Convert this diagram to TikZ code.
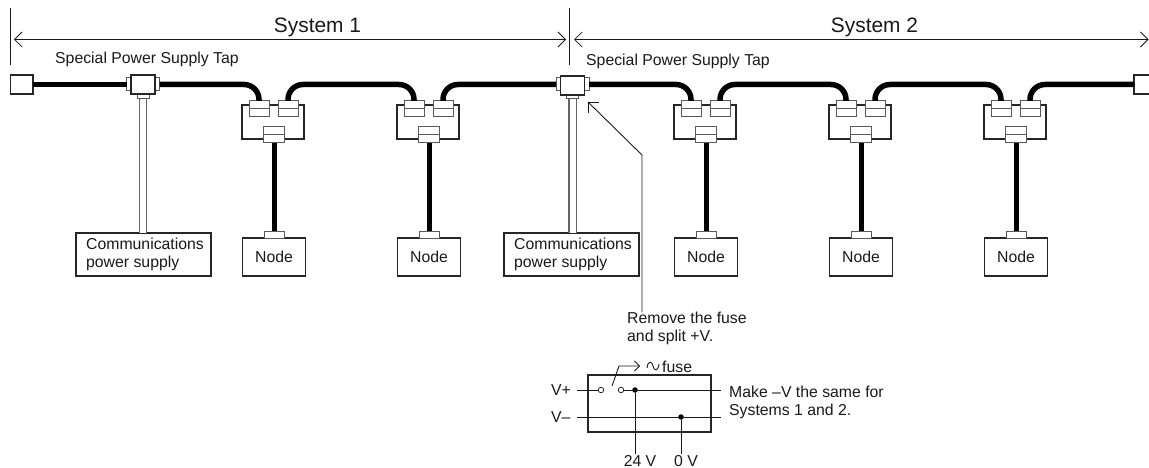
\documentclass[tikz,border=0pt]{standalone}
\usepackage{fontspec}
\setmainfont{Liberation Sans}
\usetikzlibrary{arrows.meta}
\tikzset{
  x=1pt,y=-1pt,
  txt/.style={font=\fontsize{15.8}{18}\selectfont,inner sep=0pt,anchor=base west,text=black!90},
  bigtxt/.style={font=\fontsize{20.9}{24}\selectfont,inner sep=0pt,anchor=base,text=black!90},
  bx/.style={draw=black!85,line width=1.2pt,fill=white,inner sep=0pt,outer sep=0pt,font=\fontsize{15.8}{18}\selectfont,text=black!90},
  conn/.style={draw=black!65,line width=1pt,fill=white,inner sep=0pt,outer sep=0pt,minimum width=20pt},
  cable/.style={line width=5.5pt,draw=black,rounded corners=15pt},
  drop/.style={line width=5pt,draw=black},
  feed/.style={draw=black!60,line width=1.1pt,double=white,double distance=6pt},
  dim/.style={draw=black!90,line width=.9pt},
  wire/.style={draw=black!90,line width=.9pt},
  dot/.style={circle,fill=black,inner sep=0pt,minimum size=5.5pt},
  opencirc/.style={circle,draw=black!85,line width=.8pt,fill=white,inner sep=0pt,minimum size=5.5pt},
  commbox/.style={bx,align=left,minimum height=43pt,minimum width=135pt}
}
\newcommand{\tapunit}[2]{%
  \node[bx,anchor=north west,minimum width=62pt,minimum height=34pt] (#2box) at (#1-32,105) {};
  \node[conn,minimum height=8pt,anchor=north] (#2L) at (#1-15,101) {};
  \node[conn,minimum height=8pt,anchor=north] (#2Lb) at (#2L.south) {};
  \node[conn,minimum height=8pt,anchor=north] (#2R) at (#1+14,101) {};
  \node[conn,minimum height=8pt,anchor=north] (#2Rb) at (#2R.south) {};
  \node[conn,minimum width=21pt,minimum height=7.5pt,anchor=north] (#2B) at (#1,127) {};
  \node[conn,minimum width=21pt,minimum height=8.5pt,anchor=north] (#2Bb) at (#2B.south) {};
  \node[bx,anchor=north,minimum width=63.5pt,minimum height=38pt] (#2n) at (#1,238) {Node};
  \node[conn,anchor=south,minimum height=7pt] (#2t) at (#1,238) {};
  \draw[drop] (#2Bb.south) -- (#2t.north);
}
\newcommand{\teeunit}[3]{%
  \node[conn,minimum width=4.5pt,minimum height=13pt,anchor=east] (#3W) at (#1-12,84.5) {};
  \node[conn,minimum width=4.5pt,minimum height=13pt,anchor=west] (#3E) at (#1+12,84.5) {};
  \node[conn,minimum width=12pt,minimum height=5pt,anchor=north] (#3S) at (#1,94) {};
  \node[bx,line width=1.4pt,minimum width=24pt,minimum height=19pt] (#3) at (#1,#2) {};
}
\begin{document}
\begin{tikzpicture}
\useasboundingbox (0,0) rectangle (1149,468);
% dimension lines
\coordinate (dL) at (14,39.5);
\coordinate (dM1) at (566,39.5);
\coordinate (dM2) at (574,39.5);
\coordinate (dR) at (1148.5,39.5);
\coordinate (tL1) at (10,8); \coordinate (tL2) at (10,65);
\coordinate (tM1) at (569.7,8); \coordinate (tM2) at (569.7,65);
\draw[dim] (tL1) -- (tL2);
\draw[dim] (tM1) -- (tM2);
\draw[dim,{Straight Barb[length=7.5pt,width=15pt,line width=.8pt]}-{Straight Barb[length=7.5pt,width=15pt,line width=.8pt]}] (dL) -- (dM1);
\draw[dim,{Straight Barb[length=7.5pt,width=15pt,line width=.8pt]}-{Straight Barb[length=7.5pt,width=15pt,line width=.8pt]}] (dM2) -- (dR);
\node[bigtxt] (sys1) at (317.5,33) {System 1};
\node[bigtxt] (sys2) at (874.5,33) {System 2};
\node[txt] (tap1) at (55,64) {Special Power Supply Tap};
\node[txt] (tap2) at (586,65.5) {Special Power Supply Tap};
% units
\tapunit{274}{ua}
\tapunit{429}{ub}
\tapunit{706}{uc}
\tapunit{861}{ud}
\tapunit{1016}{ue}
\teeunit{143}{84.5}{teeA}
\teeunit{572.5}{85.5}{teeB}
\node[bx,minimum width=22.5pt,minimum height=19pt,anchor=east] (endL) at (33,84.5) {};
\node[bx,minimum width=22pt,minimum height=19pt,anchor=west] (endR) at (1134,84.5) {};
% bus reference coordinates
\coordinate (b1) at (350,84.5);
\coordinate (b2) at (783,84.5);
\coordinate (b3) at (938,84.5);
% cables
\draw[cable] (endL.east) -- (teeAW.west);
\draw[cable] (teeAE.east) -| (uaL.north);
\draw[cable] (uaR.north) |- (b1) -| (ubL.north);
\draw[cable] (ubR.north) |- (teeBW.west);
\draw[cable] (teeBE.east) -| (ucL.north);
\draw[cable] (ucR.north) |- (b2) -| (udL.north);
\draw[cable] (udR.north) |- (b3) -| (ueL.north);
\draw[cable] (ueR.north) |- (endR.west);
% power supplies
\node[commbox] (commA) at (143.5,254.5) {\hspace*{3pt}Communications\\\hspace*{3pt}power supply};
\node[commbox] (commB) at (571.5,254.5) {\hspace*{3pt}Communications\\\hspace*{3pt}power supply};
\draw[feed] (teeAS.south) -- (teeAS.south |- commA.north);
\draw[feed] (teeBS.south) -- (teeBS.south |- commB.north);
% note arrow
\coordinate (nb1) at (599,102);
\coordinate (nt) at (588,102);
\coordinate (nb2) at (588,113);
\coordinate (nk) at (642,155);
\node[txt,align=left] (note) at (627,341) {Remove the fuse\\and split +V.};
\coordinate (ne) at (642,312);
\draw[wire] (nb1) -- (nt) -- (nb2);
\draw[wire] (nt) -- (nk) -- (ne);
% switch box
\node[bx,anchor=north west,fill=none,minimum width=123pt,minimum height=57pt] (sw) at (588,375) {};
\node[txt] (vp) at (551,395) {V+};
\node[txt] (vm) at (551,422) {V--};
\coordinate (vpa) at (577,390);
\coordinate (vma) at (577,417);
\coordinate (vpb) at (721,390);
\coordinate (vmb) at (721,417);
\node[opencirc] (o1) at (601,390) {};
\node[opencirc] (o2) at (621,390) {};
\node[dot] (d1) at (635,390) {};
\node[dot] (d2) at (681,417) {};
\draw[wire] (vpa) -- (o1);
\draw[wire] (o2) -- (vpb);
\draw[wire] (vma) -- (vmb);
\coordinate (e24) at (635,454);
\coordinate (e0) at (681,454);
\draw[wire] (d1) -- (e24);
\draw[wire] (d2) -- (e0);
\node[txt,anchor=base] (l24) at (640,466) {24 V};
\node[txt,anchor=base] (l0) at (686,466) {0 V};
\node[txt] (mk) at (729,397) {Make --V the same for};
\node[txt] (mk2) at (729,415) {Systems 1 and 2.};
% fuse
\coordinate (la) at (612,386);
\coordinate (lb) at (619,366);
\coordinate (lc) at (640,366);
\draw[wire,-{Straight Barb[length=5pt,width=10pt,line width=.8pt]}] (la) -- (lb) -- (lc);
\coordinate (ta) at (647,368);
\coordinate (tb) at (653,366);
\coordinate (tc) at (659,364);
\draw[wire] (ta) .. controls (648,360) and (652,361) .. (tb) .. controls (654,371) and (658,372) .. (tc);
\node[txt] (fuse) at (662,372) {fuse};
\end{tikzpicture}
\end{document}
